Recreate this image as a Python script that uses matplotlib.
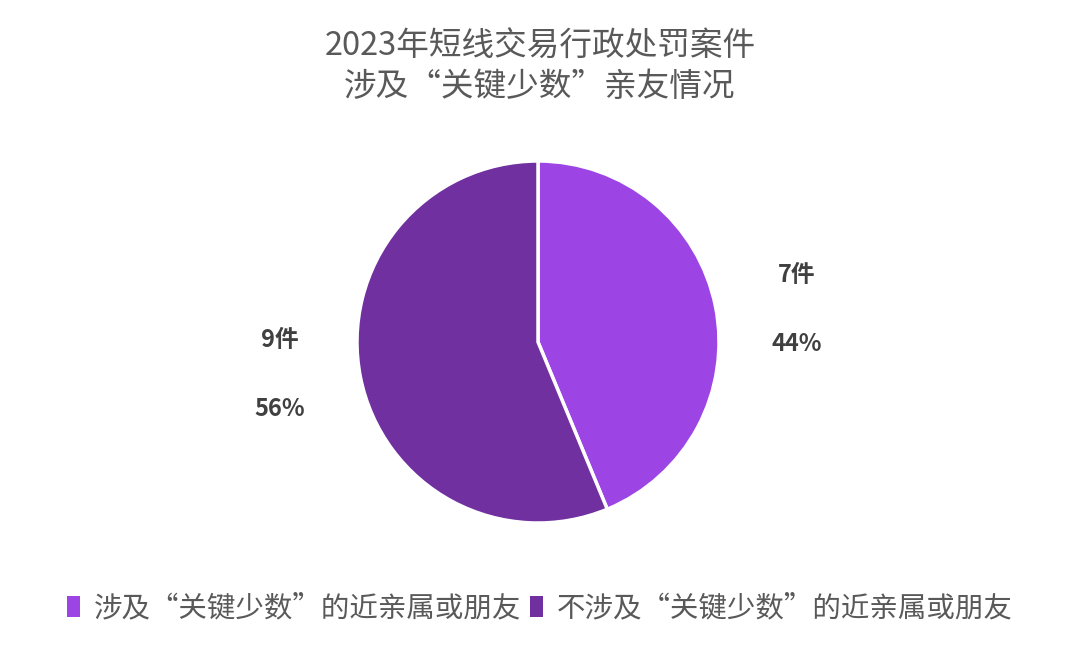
import matplotlib
matplotlib.use("Agg")
import numpy as np
import matplotlib.pyplot as plt
from matplotlib.patches import Patch

plt.rcParams["font.family"] = ["Noto Sans CJK SC", "DejaVu Sans"]

# =========================
# Data
# =========================
categories = ["涉及“关键少数”的近亲属或朋友", "不涉及“关键少数”的近亲属或朋友"]
counts = [7, 9]
colors = ["#9C45E4", "#7030A0"]
title = "2023年短线交易行政处罚案件\n涉及“关键少数”亲友情况"

total = sum(counts)
labels = [f"{c}件\n\n{round(c / total * 100)}%" for c in counts]

# =========================
# Figure
# =========================
fig = plt.figure(figsize=(10.8, 6.51), dpi=100)
fig.patch.set_facecolor("white")

# pie axes: centre ~ (538, 342) px, radius ~181 px
ax = fig.add_axes([(538 - 181) / 1080, (651 - 523) / 651, 362 / 1080, 362 / 651])

wedges, _ = ax.pie(
    counts,
    colors=colors,
    startangle=90,
    counterclock=False,
    wedgeprops=dict(edgecolor="white", linewidth=2.5),
)

# labels outside, slightly rotated from the wedge middle like the original
for w, lab in zip(wedges, labels):
    ang = np.deg2rad((w.theta1 + w.theta2) / 2 - 4)
    ax.text(1.44 * np.cos(ang), 1.44 * np.sin(ang), lab, ha="center", va="center",
            fontsize=17, color="#404040", fontweight="bold", linespacing=1.55)

ax.set_xlim(-1, 1)
ax.set_ylim(-1, 1)
ax.set_aspect("equal")

fig.text(0.5, 0.897, title, ha="center", va="center", fontsize=23.5,
         color="#595959", linespacing=1.3)

handles = [Patch(facecolor=c, edgecolor="none") for c in colors]
fig.legend(
    handles, categories,
    loc="center", bbox_to_anchor=(0.5, 0.066), ncol=2, frameon=False,
    fontsize=20.5, handlelength=0.45, handleheight=0.75, handletextpad=0.5,
    columnspacing=0.3, labelcolor="#595959",
)

fig.savefig("out.png", dpi=100)
